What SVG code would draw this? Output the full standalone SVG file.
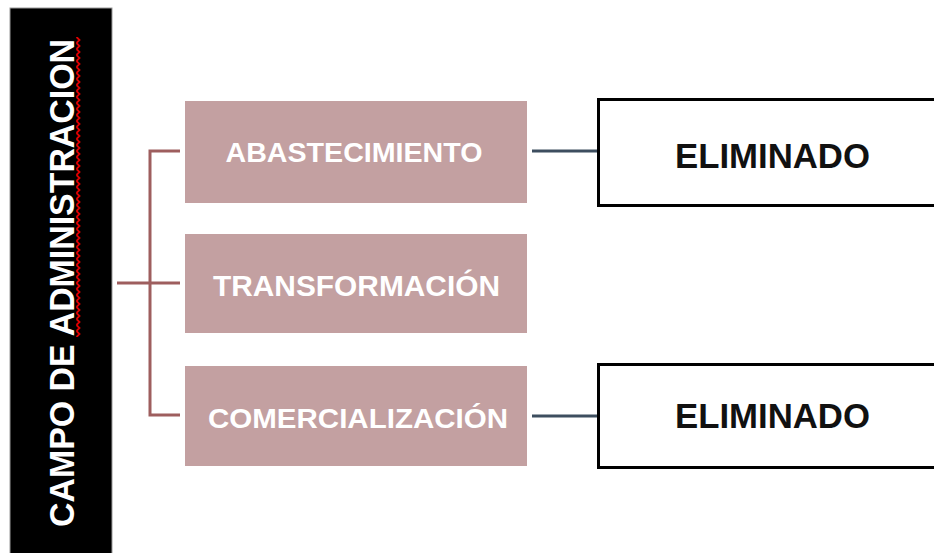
<svg xmlns="http://www.w3.org/2000/svg" width="934" height="553" viewBox="0 0 934 553">
<style>
.pink{fill:#c3a0a1;}
.ptext{fill:#ffffff;font-family:"Liberation Sans",Arial,sans-serif;font-weight:bold;text-anchor:middle;}
.wbox{fill:#ffffff;stroke:#000000;stroke-width:3;}
.wtext{fill:#111111;font-family:"Liberation Sans",Arial,sans-serif;font-weight:bold;font-size:35px;text-anchor:middle;}
.bracket{fill:none;stroke:#9e5e5e;stroke-width:3;}
.link{fill:none;stroke:#3d4e5f;stroke-width:3;}
</style>
<defs>
<pattern id="squiggle" patternUnits="userSpaceOnUse" x="75" y="37" width="6" height="6">
<polyline points="1.5,0 4.5,3 1.5,6" fill="none" stroke="#e00000" stroke-width="1.8"/>
</pattern>
</defs>
<rect width="934" height="553" fill="#ffffff"/>
<g id="campo">
<rect x="10" y="8" width="102" height="550" fill="#000000" stroke="#9a9a9a" stroke-width="1"/>
<text transform="translate(74,283) rotate(-90)" x="0" y="0" fill="#ffffff" font-family="'Liberation Sans',Arial,sans-serif" font-weight="bold" font-size="35" text-anchor="middle" textLength="488" lengthAdjust="spacingAndGlyphs">CAMPO DE ADMINISTRACION</text>
<rect x="75" y="37" width="6" height="300" fill="url(#squiggle)"/>
</g>
<g id="connectors">
<path class="bracket" d="M180,151 H150 V415 H180"/>
<path class="bracket" d="M117,283 H180"/>
<path class="link" d="M532,151 H597"/>
<path class="link" d="M532,416 H597"/>
</g>
<g id="abastecimiento">
<rect class="pink" x="185" y="101" width="342" height="102"/>
<text class="ptext" x="354" y="162" font-size="27" textLength="257" lengthAdjust="spacingAndGlyphs">ABASTECIMIENTO</text>
</g>
<g id="transformacion">
<rect class="pink" x="185" y="234" width="342" height="99"/>
<text class="ptext" x="356.5" y="296" font-size="29" textLength="287" lengthAdjust="spacingAndGlyphs">TRANSFORMACIÓN</text>
</g>
<g id="comercializacion">
<rect class="pink" x="185" y="366" width="342" height="100"/>
<text class="ptext" x="358" y="428" font-size="27" textLength="300" lengthAdjust="spacingAndGlyphs">COMERCIALIZACIÓN</text>
</g>
<g id="eliminado1">
<rect class="wbox" x="598.5" y="99.5" width="340" height="106"/>
<text class="wtext" x="772.5" y="168" textLength="195" lengthAdjust="spacingAndGlyphs">ELIMINADO</text>
</g>
<g id="eliminado2">
<rect class="wbox" x="598.5" y="364.5" width="340" height="103"/>
<text class="wtext" x="772.5" y="428" textLength="195" lengthAdjust="spacingAndGlyphs">ELIMINADO</text>
</g>
</svg>
